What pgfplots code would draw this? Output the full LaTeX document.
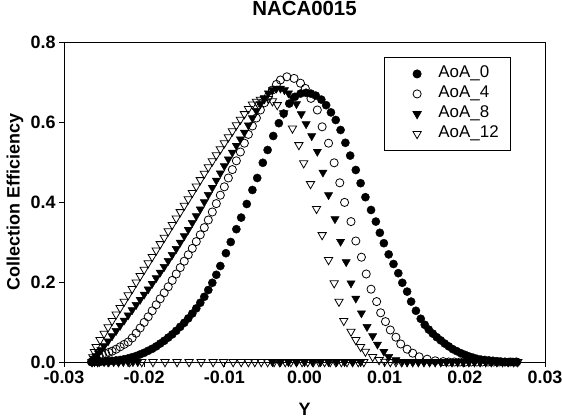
\documentclass[border=0pt]{standalone}
\usepackage{fontspec}
\setmainfont{Liberation Sans}
\usepackage{pgfplots}
\pgfplotsset{compat=1.18}
\begin{document}
\begin{tikzpicture}
\begin{axis}[
  scale only axis,
  width=481bp, height=320bp,
  xmin=-0.03, xmax=0.03, ymin=0, ymax=0.8,
  xtick={-0.03,-0.02,-0.01,0,0.01,0.02,0.03},
  ytick={0,0.2,0.4,0.6,0.8},
  scaled x ticks=false, scaled y ticks=false,
  xticklabel style={/pgf/number format/.cd, fixed, fixed zerofill, precision=2, assume math mode=true},
  yticklabel style={/pgf/number format/.cd, fixed, fixed zerofill, precision=1, assume math mode=true},
  tick align=outside, tick pos=left,
  major tick length=5bp,
  tick style={black, line width=0.8pt},
  axis line style={black, line width=0.9pt},
  ticklabel style={font=\fontsize{18}{19}\selectfont\bfseries},
  title={NACA0015},
  title style={font=\fontsize{20.5}{22}\selectfont\bfseries, at={(axis description cs:0.5,1.0875)}, anchor=center, inner sep=0pt},
  xlabel={Y}, ylabel={Collection Efficiency},
  label style={font=\fontsize{18}{19}\selectfont\bfseries, inner sep=0pt},
  xlabel style={at={(axis description cs:0.5,-0.1469)}, anchor=center},
  ylabel style={at={(axis description cs:-0.1019,0.5)}, anchor=center},
  legend style={at={(axis description cs:0.6653,0.953)}, anchor=north west, draw=black, line width=0.8pt,
    font=\fontsize{17}{18}\selectfont, inner xsep=12bp, inner ysep=9bp, row sep=5bp,
    nodes={inner xsep=0pt, inner ysep=0pt, text height=11.5bp, text depth=3.5bp}},
  legend cell align=left,
  legend image code/.code={\path[draw=none,fill=none] (-20.7bp,0bp) -- (21.3bp,0bp); \draw plot coordinates {(0bp,0bp)};},
]
\addplot[only marks, mark=*, mark size=4.1pt, mark options={draw=black, fill=black}] coordinates {
(-0.0266,0) (-0.0262,0) (-0.0258,0) (-0.0254,0.001) (-0.025,0.001) (-0.0245,0.002) (-0.024,0.003) (-0.0235,0.004)
(-0.023,0.005) (-0.0225,0.007) (-0.022,0.009) (-0.0215,0.012) (-0.021,0.015) (-0.0205,0.019) (-0.020,0.023)
(-0.0195,0.028) (-0.019,0.033) (-0.0185,0.039) (-0.018,0.046) (-0.0175,0.053) (-0.017,0.061) (-0.0165,0.069)
(-0.016,0.078) (-0.0155,0.088) (-0.015,0.098) (-0.0145,0.109) (-0.014,0.121) (-0.0135,0.134) (-0.013,0.148)
(-0.0125,0.163) (-0.012,0.18) (-0.0115,0.198) (-0.011,0.218) (-0.0105,0.24)
(-0.0098,0.272) (-0.0092,0.30) (-0.0085,0.332) (-0.0079,0.361) (-0.0072,0.395) (-0.0065,0.43) (-0.0059,0.46)
(-0.0052,0.498) (-0.0046,0.53) (-0.0039,0.565) (-0.0032,0.597) (-0.0026,0.621) (-0.0019,0.646) (-0.0012,0.663)
(-0.0005,0.671) (0.0002,0.673) (0.0008,0.671) (0.0014,0.666) (0.0021,0.656) (0.0027,0.642) (0.0033,0.624)
(0.0039,0.605) (0.0045,0.58) (0.0051,0.548) (0.0057,0.516) (0.0064,0.48) (0.007,0.447) (0.0076,0.412)
(0.0083,0.38) (0.0089,0.351) (0.0094,0.323) (0.0099,0.297) (0.0105,0.269) (0.0111,0.245) (0.0117,0.222)
(0.0122,0.198) (0.0128,0.176) (0.0133,0.151) (0.0139,0.128) (0.0145,0.108) (0.015,0.093) (0.0155,0.081)
(0.016,0.071) (0.0165,0.062) (0.017,0.054) (0.0175,0.046) (0.018,0.039) (0.0185,0.032) (0.019,0.027)
(0.0195,0.022) (0.02,0.018) (0.0205,0.014) (0.021,0.011) (0.0215,0.008) (0.022,0.006) (0.0225,0.005)
(0.023,0.004) (0.0235,0.003) (0.024,0.002) (0.0245,0.001) (0.025,0) (0.0255,0) (0.026,0) (0.0265,0)
};
\addlegendentry{AoA\_0}
\addplot[only marks, mark=o, mark size=4.1pt, mark options={draw=black, fill=white, line width=0.8pt}] coordinates {
(-0.0265,0) (-0.0263,0.006) (-0.026,0.011) (-0.0256,0.015) (-0.0252,0.018) (-0.0248,0.021) (-0.0244,0.024)
(-0.024,0.027) (-0.0235,0.032) (-0.023,0.038) (-0.0225,0.044) (-0.022,0.05) (-0.0215,0.06) (-0.021,0.072)
(-0.0205,0.085) (-0.020,0.099) (-0.0195,0.113) (-0.019,0.128) (-0.0185,0.143) (-0.018,0.158) (-0.0175,0.173)
(-0.017,0.188) (-0.0165,0.204) (-0.016,0.22) (-0.0155,0.236) (-0.015,0.252) (-0.0145,0.268) (-0.014,0.284)
(-0.0135,0.301) (-0.013,0.318) (-0.0125,0.336) (-0.012,0.355) (-0.0115,0.375) (-0.011,0.396) (-0.0105,0.417)
(-0.010,0.438) (-0.0095,0.46) (-0.009,0.481) (-0.0085,0.503) (-0.008,0.525) (-0.0075,0.547) (-0.007,0.569)
(-0.0065,0.59) (-0.006,0.61) (-0.0055,0.63) (-0.005,0.648) (-0.0045,0.665) (-0.004,0.68) (-0.0035,0.694)
(-0.003,0.705) (-0.0022,0.713) (-0.0013,0.709) (-0.0005,0.697) (0.0001,0.684) (0.0008,0.659) (0.0016,0.63)
(0.0022,0.588) (0.003,0.547) (0.0037,0.498) (0.0044,0.448) (0.005,0.399) (0.0058,0.351) (0.0064,0.3025)
(0.0071,0.262) (0.0077,0.22) (0.0083,0.182) (0.009,0.151) (0.0095,0.123) (0.0101,0.101) (0.0107,0.08)
(0.0114,0.062) (0.012,0.045) (0.0128,0.032) (0.0135,0.022) (0.0143,0.013) (0.0153,0.007) (0.0163,0.003)
(0.0173,0.001) (0.018,0) (0.0187,0) (0.0194,0) (0.0201,0) (0.0208,0) (0.0215,0) (0.0222,0) (0.0229,0)
(0.0236,0) (0.0243,0) (0.025,0) (0.0257,0) (0.0264,0)
};
\addlegendentry{AoA\_4}
\addplot[only marks, mark=triangle*, mark size=4.8pt, mark options={draw=black, fill=black, rotate=180}] coordinates {
(-0.0265,0) (-0.0262,0.008) (-0.026,0.015) (-0.0257,0.022) (-0.0254,0.03) (-0.025,0.04) (-0.0245,0.052)
(-0.024,0.065) (-0.0235,0.078) (-0.023,0.091) (-0.0225,0.104) (-0.022,0.117) (-0.0215,0.13) (-0.021,0.143)
(-0.0205,0.156) (-0.020,0.169) (-0.0195,0.182) (-0.019,0.196) (-0.0185,0.21) (-0.018,0.224) (-0.0175,0.238)
(-0.017,0.253) (-0.0165,0.268) (-0.016,0.283) (-0.0155,0.299) (-0.015,0.315) (-0.0145,0.331) (-0.014,0.348)
(-0.0135,0.365) (-0.013,0.382) (-0.0125,0.4) (-0.012,0.418) (-0.0115,0.436) (-0.011,0.454) (-0.0105,0.472)
(-0.010,0.49) (-0.0095,0.507) (-0.009,0.524) (-0.0085,0.541) (-0.008,0.557) (-0.0075,0.574) (-0.007,0.592)
(-0.0065,0.61) (-0.006,0.628) (-0.0055,0.645) (-0.005,0.66) (-0.0045,0.672) (-0.004,0.68) (-0.0035,0.684)
(-0.003,0.684) (-0.0025,0.68) (-0.002,0.672) (-0.0015,0.66) (-0.001,0.645) (-0.0004,0.62) (0.0002,0.595)
(0.0009,0.565) (0.0016,0.526) (0.0023,0.474) (0.003,0.4175) (0.0038,0.3575) (0.0045,0.301) (0.0052,0.25)
(0.0058,0.197) (0.0064,0.159) (0.0071,0.122) (0.0078,0.088) (0.0085,0.065) (0.0091,0.044) (0.0099,0.026)
(0.0105,0.013) (0.0114,0.005) (0.0122,0.001)
(-0.0262,0) (-0.0256,0) (-0.025,0) (-0.0244,0) (-0.0238,0) (-0.0232,0) (-0.0226,0) (-0.022,0) (-0.0214,0) (-0.0208,0)
(-0.004,0) (-0.003,0) (-0.002,0) (-0.001,0) (0.0,0) (0.001,0) (0.002,0) (0.003,0) (0.004,0) (0.005,0) (0.006,0) (0.007,0)
(0.0128,0) (0.0135,0) (0.0142,0) (0.0149,0) (0.0156,0) (0.0163,0) (0.017,0) (0.0177,0) (0.0184,0) (0.0191,0)
(0.0198,0) (0.0205,0) (0.0212,0) (0.0219,0) (0.0226,0) (0.0233,0) (0.024,0) (0.0247,0) (0.0254,0) (0.0261,0)
};
\addlegendentry{AoA\_8}
\addplot[only marks, mark=triangle, mark size=4.8pt, mark options={draw=black, fill=white, rotate=180, line width=0.8pt}] coordinates {
(-0.0265,0) (-0.0264,0.012) (-0.0262,0.025) (-0.026,0.038) (-0.0255,0.055) (-0.025,0.071) (-0.0245,0.087)
(-0.024,0.103) (-0.0235,0.119) (-0.023,0.135) (-0.0225,0.151) (-0.022,0.167) (-0.0215,0.183) (-0.021,0.199)
(-0.0205,0.215) (-0.020,0.231) (-0.0195,0.247) (-0.019,0.263) (-0.0185,0.279) (-0.018,0.295) (-0.0175,0.311)
(-0.017,0.327) (-0.0165,0.343) (-0.016,0.359) (-0.0155,0.375) (-0.015,0.391) (-0.0145,0.407) (-0.014,0.423)
(-0.0135,0.439) (-0.013,0.455) (-0.0125,0.471) (-0.012,0.487) (-0.0115,0.502) (-0.011,0.517) (-0.0105,0.532)
(-0.010,0.547) (-0.0095,0.562) (-0.009,0.577) (-0.0085,0.592) (-0.008,0.606) (-0.0075,0.62) (-0.007,0.633)
(-0.0065,0.644) (-0.006,0.651) (-0.0055,0.656) (-0.005,0.658) (-0.0045,0.658) (-0.004,0.652) (-0.0034,0.6425)
(-0.0026,0.622) (-0.0015,0.584) (-0.0007,0.5425) (-0.0001,0.497) (0.00075,0.445) (0.0015,0.383) (0.0022,0.3175)
(0.003,0.255) (0.0037,0.197) (0.0043,0.151) (0.0049,0.103) (0.0058,0.076) (0.0064,0.055) (0.007,0.038)
(0.0076,0.026) (0.0085,0.013) (0.0093,0.005) (0.0100,0.001)
(-0.0258,0) (-0.0245,0) (-0.0232,0) (-0.0218,0) (-0.0203,0) (-0.0189,0) (-0.0174,0) (-0.0159,0) (-0.0144,0)
(-0.0129,0) (-0.0114,0) (-0.0101,0) (-0.0089,0) (-0.0079,0) (-0.0070,0) (-0.0062,0) (-0.0054,0) (-0.0046,0)
(-0.0038,0) (-0.0031,0) (-0.0024,0) (-0.0017,0) (-0.0010,0) (-0.0003,0) (0.0004,0) (0.0011,0) (0.0018,0)
(0.0025,0) (0.0032,0) (0.0039,0) (0.0046,0) (0.0053,0) (0.0060,0) (0.0067,0) (0.0074,0)
(0.0107,0) (0.0114,0) (0.0121,0) (0.0128,0) (0.0135,0) (0.0142,0) (0.0149,0) (0.0156,0) (0.0163,0) (0.017,0)
(0.0177,0) (0.0184,0) (0.0191,0) (0.0198,0) (0.0205,0) (0.0212,0) (0.0219,0) (0.0226,0) (0.0233,0) (0.024,0)
(0.0247,0) (0.0254,0) (0.0261,0) (0.0266,0)
};
\addlegendentry{AoA\_12}
\end{axis}
\pgfresetboundingbox
\path ([xshift=-64bp,yshift=-58bp]current axis.south west) rectangle ([xshift=17bp,yshift=42bp]current axis.north east);
\end{tikzpicture}
\end{document}
